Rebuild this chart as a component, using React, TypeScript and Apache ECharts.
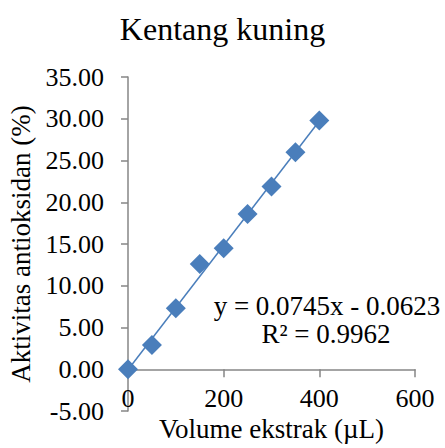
import React, { useEffect, useRef } from "react";
import * as echarts from "echarts";

// Extract volume (µL) vs antioxidant activity (%)
const volume = [0, 50, 100, 150, 200, 250, 300, 350, 400];
const activity = [0, 2.9, 7.3, 12.6, 14.5, 18.6, 21.9, 26.0, 29.8];

// Linear trendline coefficients as printed on the chart
const slope = 0.0745;
const intercept = -0.0623;
const rSquared = 0.9962;

const xTicks = { min: 0, max: 600, interval: 200 };
const yTicks = { min: -5, max: 35, interval: 5 };

const FONT = "Liberation Serif";
const BLUE = "#4A7EBB";
const AXIS_GRAY = "#868686";

export default function App() {
  const ref = useRef<HTMLDivElement>(null);

  useEffect(() => {
    if (!ref.current) return;
    const chart = echarts.init(ref.current, undefined, { renderer: "svg" });

    const xStart = volume[0];
    const xEnd = volume[volume.length - 1];
    const trend = [
      [xStart, slope * xStart + intercept],
      [xEnd, slope * xEnd + intercept],
    ];
    const points = volume.map((v, i) => [v, activity[i]]);

    chart.setOption({
      animation: false,
      backgroundColor: "#ffffff",
      textStyle: { fontFamily: FONT, color: "#000" },
      title: {
        text: "Kentang kuning",
        left: "center",
        top: 8,
        textStyle: {
          fontFamily: FONT,
          fontSize: 32,
          fontWeight: "normal",
          color: "#000",
        },
      },
      grid: {
        left: 128,
        right: 30,
        top: 77,
        bottom: 37,
        containLabel: false,
        outerBoundsMode: "none",
      },
      xAxis: {
        type: "value",
        min: xTicks.min,
        max: xTicks.max,
        interval: xTicks.interval,
        name: "Volume ekstrak (µL)",
        nameLocation: "middle",
        nameGap: 0,
        nameTextStyle: { fontFamily: FONT, fontSize: 27, color: "#000" },
        axisLine: { onZero: true, lineStyle: { color: AXIS_GRAY, width: 1.5 } },
        axisTick: { show: true, length: 8, lineStyle: { color: AXIS_GRAY, width: 1.5 } },
        axisLabel: {
          margin: -26,
          fontFamily: FONT,
          fontSize: 26,
          color: "#000",
        },
        splitLine: { show: false },
      },
      yAxis: {
        type: "value",
        min: yTicks.min,
        max: yTicks.max,
        interval: yTicks.interval,
        name: "Aktivitas antioksidan (%)",
        nameLocation: "middle",
        nameGap: 84,
        nameTextStyle: { fontFamily: FONT, fontSize: 27, color: "#000" },
        axisLine: { show: true, onZero: false, lineStyle: { color: AXIS_GRAY, width: 1.5 } },
        axisTick: { show: true, length: 7, lineStyle: { color: AXIS_GRAY, width: 1.5 } },
        axisLabel: {
          margin: 24,
          fontFamily: FONT,
          fontSize: 26,
          color: "#000",
          formatter: (v: number) => v.toFixed(2),
        },
        splitLine: { show: false },
      },
      graphic: [
        {
          type: "text",
          x: 327,
          y: 306,
          style: {
            text: `y = ${slope}x - ${Math.abs(intercept)}`,
            fontFamily: FONT,
            fontSize: 27,
            fill: "#000",
            textAlign: "center",
            textVerticalAlign: "middle",
          },
          z: 10,
        },
        {
          type: "text",
          x: 326,
          y: 334,
          style: {
            text: `R² = ${rSquared}`,
            fontFamily: FONT,
            fontSize: 27,
            fill: "#000",
            textAlign: "center",
            textVerticalAlign: "middle",
          },
          z: 10,
        },
      ],
      series: [
        {
          name: "Linear",
          type: "line",
          data: trend,
          showSymbol: false,
          symbol: "none",
          lineStyle: { color: BLUE, width: 1.5 },
          z: 2,
        },
        {
          name: "Aktivitas",
          type: "scatter",
          data: points,
          symbol: "diamond",
          symbolSize: 20,
          itemStyle: { color: BLUE, opacity: 1 },
          z: 3,
        },
      ],
    });

    return () => chart.dispose();
  }, []);

  return <div ref={ref} style={{ width: 445, height: 448, position: "absolute", left: 0, top: 0 }} />;
}
